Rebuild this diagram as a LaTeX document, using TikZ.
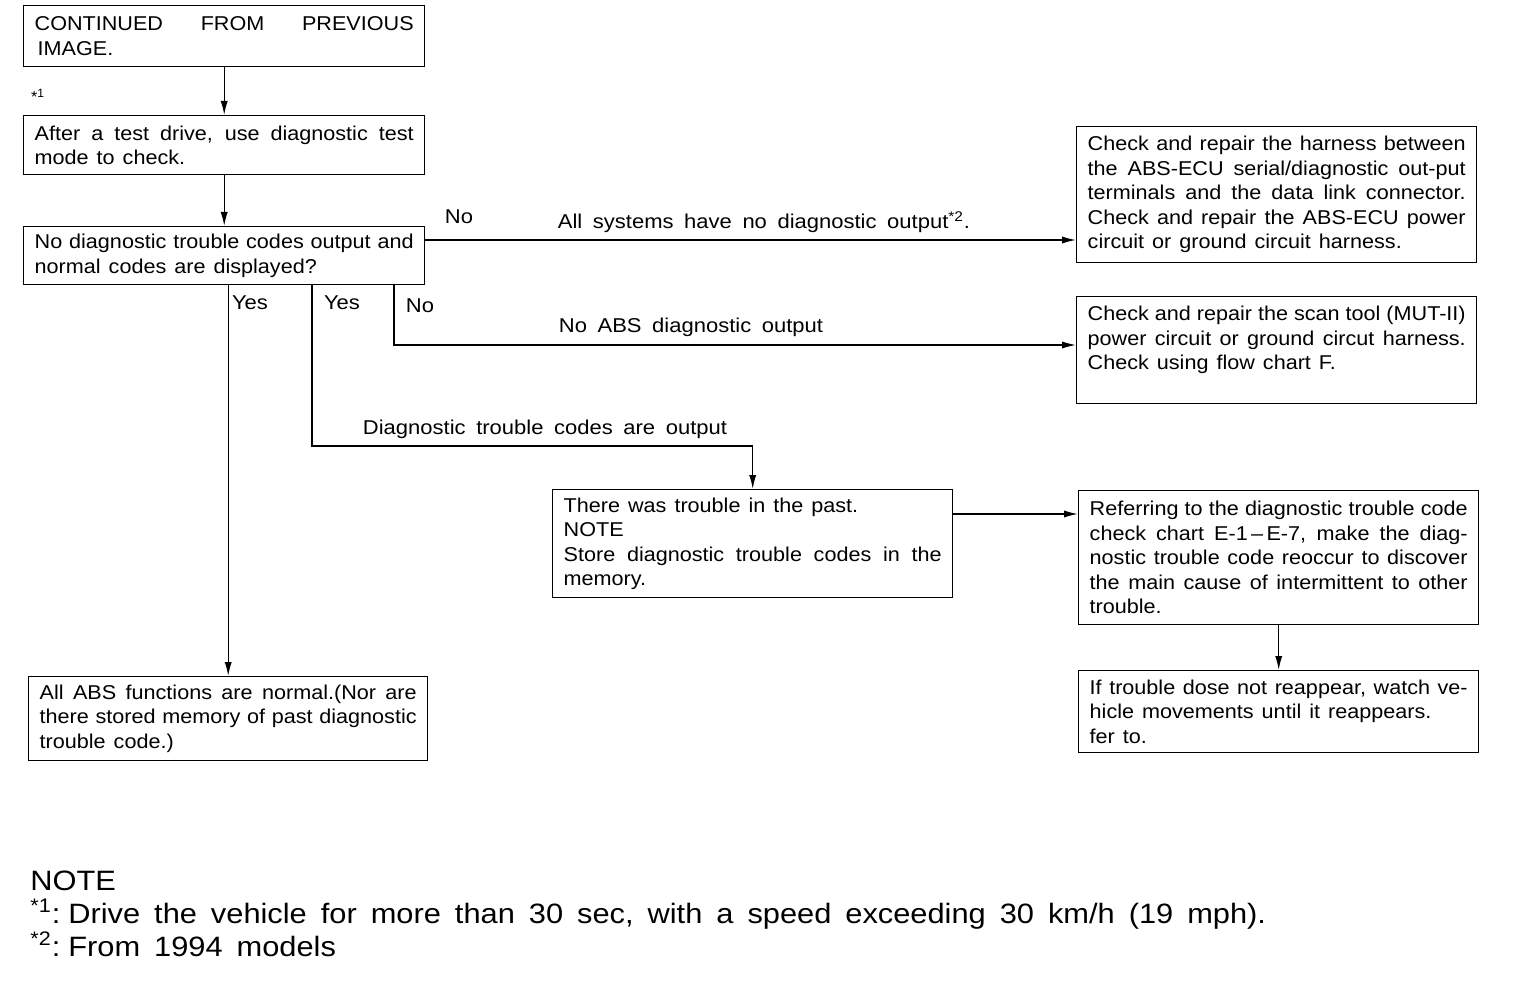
\documentclass[tikz,border=0pt]{standalone}
\usepackage{fontspec}
\setmainfont{Liberation Sans}
\newfontfamily\bxf[FakeStretch=1.08,Ligatures=TeX]{Liberation Sans}
\newfontfamily\lbf[FakeStretch=1.1,Ligatures=TeX]{Liberation Sans}
\usetikzlibrary{arrows.meta,calc}
\newcommand\bxfont{\bxf\fontsize{10}{12.25}\selectfont\spaceskip=.4em plus .8em minus .15em\relax}
\newcommand\lbfont{\lbf\fontsize{10}{12.25}\selectfont\spaceskip=.53em\relax}
\newcommand\ntfont{\lbf\fontsize{14}{16.5}\selectfont\spaceskip=.5em\relax}
\begin{document}
\begin{tikzpicture}[x=0.5pt,y=-0.5pt,
  box/.style={draw, line width=0.7pt, anchor=north west, inner xsep=5.5pt, inner ysep=2pt,
    align=justify, font=\bxfont, text width=189pt, minimum width=200pt},
  lbl/.style={font=\lbfont, inner sep=0pt},
  arr/.style={line width=0.7pt, -{Latex[length=7pt,width=3.6pt]}},
  note/.style={font=\ntfont, anchor=base west, inner sep=0pt}]
\useasboundingbox (0,0) rectangle (1520,1000);

\node[box, minimum height=30.5pt, minimum width=200.5pt, text width=189.5pt] (b1) at (23,5)
  {CONTINUED FROM PREVIOUS\linebreak\hspace*{1.5pt}IMAGE.};
\node[box, minimum height=29.5pt, minimum width=200.5pt, text width=189.5pt] (b3) at (23,115)
  {After a test drive, use diagnostic test\linebreak mode to check.};
\node[box, minimum height=29pt, minimum width=200.5pt, text width=189.5pt] (b4) at (23,226)
  {No diagnostic trouble codes output and\linebreak normal codes are displayed?};
\node[box, minimum height=68pt] (r1) at (1076,126)
  {Check and repair the harness between\linebreak the ABS-ECU serial/diagnostic out-put\linebreak terminals and the data link connector.\linebreak Check and repair the ABS-ECU power\linebreak circuit or ground circuit harness.};
\node[box, minimum height=53.5pt] (r2) at (1076,296)
  {Check and repair the scan tool (MUT-II)\linebreak power circuit or ground circut harness.\linebreak Check using flow chart F.\par\mbox{}};
\node[box, minimum height=54pt] (m) at (552,489)
  {There was trouble in the past.\\ NOTE\\ Store diagnostic trouble codes in the\linebreak memory.};
\node[box, minimum height=67pt] (r3) at (1078,490)
  {Referring to the diagnostic trouble code\linebreak check chart E-1\,\textendash\,E-7, make the diag-\linebreak nostic trouble code reoccur to discover\linebreak the main cause of intermittent to other\linebreak trouble.};
\node[box, minimum height=41pt] (r4) at (1078,670)
  {If trouble dose not reappear, watch ve-\linebreak hicle movements until it reappears.\\ fer to.};
\node[box, minimum height=42pt, minimum width=199.5pt, text width=188.5pt] (bl) at (28,676)
  {All ABS functions are normal.(Nor are\linebreak there stored memory of past diagnostic\linebreak trouble code.)};

% labels
\node[lbl, font=\fontsize{8}{9}\selectfont] (s1) at (38,96) {*\textsuperscript{1}};
\node[lbl] (lno1) at (459,217) {No};
\node[lbl] (lall) at (764,222) {All systems have no diagnostic output\textsuperscript{*2}.};
\node[lbl] (lyes1) at (250,303) {Yes};
\node[lbl] (lyes2) at (342,303) {Yes};
\node[lbl] (lno2) at (420,306) {No};
\node[lbl] (labs) at (691,327) {No ABS diagnostic output};
\node[lbl] (ldtc) at (545,429) {Diagnostic trouble codes are output};

% connectors
\draw[arr] (b1.south) -- (b3.north);
\draw[arr] (b3.south) -- (b4.north);
\coordinate (n1) at ($(b4.north east)+(0,14)$);
\draw[arr] (n1) -- (n1 -| r1.west);
\draw[arr] (b4.south -| bl.north) -- (bl.north);
\coordinate (ya) at (312,446);
\draw[arr] (b4.south -| ya) -- (ya) -| (m.north);
\coordinate (nb) at (394,345);
\draw[arr] (b4.south -| nb) -- (nb) -- (nb -| r2.west);
\coordinate (mc) at ($(m.north east)+(0,25)$);
\draw[arr] (mc) -- (mc -| r3.west);
\draw[arr] (r3.south) -- (r4.north);

% notes
\node[note] (nt0) at (30,890) {NOTE};
\node[note] (nt1) at (30,923) {\textsuperscript{*1}:\hspace{4pt}Drive the vehicle for more than 30 sec, with a speed exceeding 30 km/h (19 mph).};
\node[note] (nt2) at (30,956) {\textsuperscript{*2}:\hspace{4pt}From 1994 models};
\end{tikzpicture}
\end{document}
